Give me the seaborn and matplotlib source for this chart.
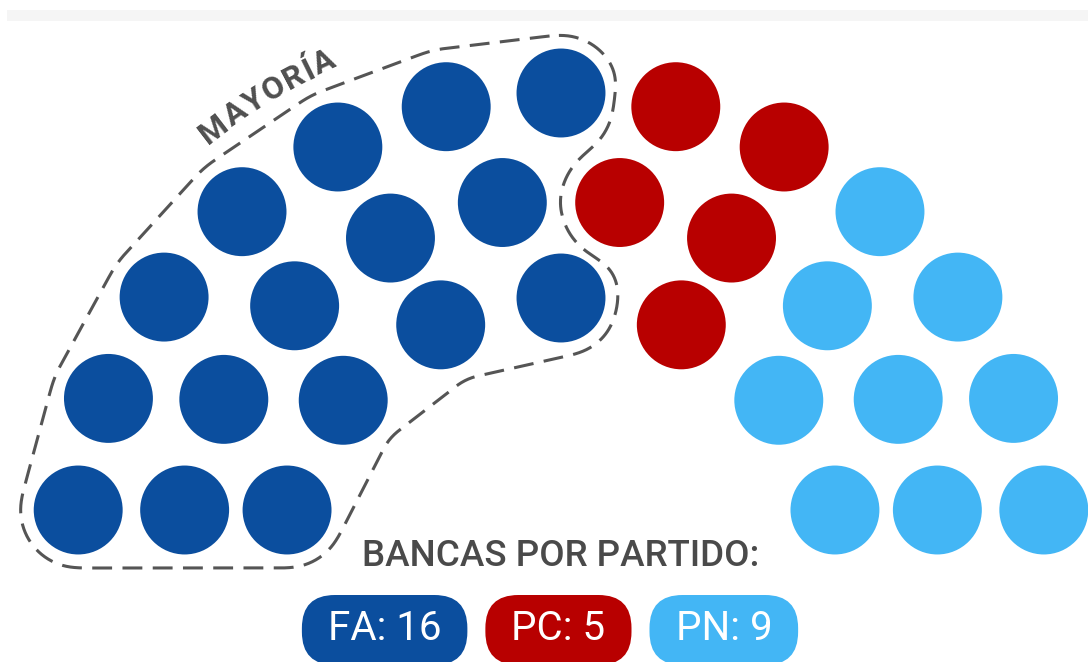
import numpy as np
import pandas as pd
import matplotlib
matplotlib.use("Agg")
import matplotlib.pyplot as plt
import seaborn as sns
from matplotlib.path import Path
from matplotlib.patches import FancyBboxPatch, Rectangle
from matplotlib.font_manager import FontProperties
import contourpy

# ---------------- data ----------------
parties = ["FA", "PC", "PN"]
seats = [16, 5, 9]
colors = ["#0B4E9E", "#B80000", "#43B6F5"]
legend_title = "BANCAS POR PARTIDO:"
majority_label = "MAYORÍA"
majority_party = "FA"

# ---------------- style ----------------
sns.set_theme(style="white")
plt.rcParams["font.family"] = ["Roboto", "DejaVu Sans"]

W, H = 1088, 662
fig = plt.figure(figsize=(W / 100, H / 100), dpi=100)
ax = fig.add_axes([0, 0, 1, 1])

# ---------------- hemicycle layout ----------------
cx, cy = 561, 581
row_r = [283, 383, 488]
row_n = [7, 10, 13]
base = 71
rows = []
for ri, (R, n) in enumerate(zip(row_r, row_n)):
    a0 = np.degrees(np.arcsin(base / R))
    for a in np.linspace(180 - a0, a0, n):
        rows.append((ri, round(a, 6), cx + R * np.cos(np.radians(a)), cy - R * np.sin(np.radians(a))))
df = pd.DataFrame(rows, columns=["row", "angle", "x", "y"])
df = df.sort_values(["angle", "row"], ascending=[False, True]).reset_index(drop=True)
df["party"] = np.repeat(parties, seats)

sns.scatterplot(data=df, x="x", y="y", hue="party", palette=dict(zip(parties, colors)),
                s=4100, linewidth=0, legend=False, ax=ax, zorder=3)

# ---------------- majority outline ----------------
fa = df[df.party == majority_party]
others = df[df.party != majority_party][["x", "y"]].values.astype(float)
outer = fa[fa.row == 2].sort_values("angle", ascending=False)[["x", "y"]].values.astype(float)
mid = fa[fa.row == 1].sort_values("angle")[["x", "y"]].values.astype(float)[:1]
inner = fa[fa.row == 0].sort_values("angle", ascending=True)[["x", "y"]].values.astype(float)
poly = np.vstack([outer, mid, inner])

gx = np.arange(-20, W + 21, 2.0)
gy = np.arange(-20, H + 21, 2.0)
GX, GY = np.meshgrid(gx, gy)
P = np.column_stack([GX.ravel(), GY.ravel()])
dpoly = np.full(len(P), np.inf)
for i in range(len(poly)):
    a = poly[i]; b = poly[(i + 1) % len(poly)]
    ab = b - a
    t = np.clip(((P - a) @ ab) / (ab @ ab), 0, 1)
    proj = a + t[:, None] * ab
    dpoly = np.minimum(dpoly, np.hypot(*(P - proj).T))
inside = Path(np.vstack([poly, poly[:1]])).contains_points(P)
dpoly[inside] = 0
doth = np.min(np.hypot(P[:, 0][:, None] - others[:, 0], P[:, 1][:, None] - others[:, 1]), axis=1)
fa_a = dpoly - 58.0
fa_b = 59.0 - doth
ksm = 5.0
mm = np.maximum(fa_a, fa_b)
G = mm + ksm * np.log(np.exp((fa_a - mm) / ksm) + np.exp((fa_b - mm) / ksm))
G = G.reshape(GX.shape)
lines = contourpy.contour_generator(gx, gy, G).lines(0.0)
line = max(lines, key=len)
closed = np.vstack([line, line[:1]])
seg = np.hypot(*np.diff(closed, axis=0).T)
s = np.concatenate([[0], np.cumsum(seg)])
ss = np.arange(0, s[-1], 1.0)
rx = np.interp(ss, s, closed[:, 0]); ry = np.interp(ss, s, closed[:, 1])
k = 25
ker = np.ones(k) / k
def circ_smooth(v):
    ext = np.concatenate([v[-k:], v, v[:k]])
    return np.convolve(ext, ker, mode="same")[k:-k]
sx, sy = circ_smooth(rx), circ_smooth(ry)
sx = np.append(sx, sx[0]); sy = np.append(sy, sy[0])
ax.plot(sx, sy, color="#555555", lw=2.2, dashes=(6.5, 3.4),
        dash_capstyle="butt", zorder=2)

# ---------------- MAYORÍA along the arc ----------------
fp = FontProperties(family=["Roboto", "DejaVu Sans"], weight="bold", size=23)
fig.canvas.draw()
rend = fig.canvas.get_renderer()
def tw(t, prop):
    if not t:
        return 0.0
    return rend.get_text_width_height_descent(t, prop, ismath=False)[0]
track = 1.5
n = len(majority_label)
centers = [(tw(majority_label[:i], fp) + tw(majority_label[:i + 1], fp)) / 2 + track * i for i in range(n)]
L = tw(majority_label, fp) + track * (n - 1)
Rt = 561
amid = 121.2
for ch, c in zip(majority_label, centers):
    ang = amid - np.degrees((c - L / 2) / Rt)
    x = cx + Rt * np.cos(np.radians(ang)); y = cy - Rt * np.sin(np.radians(ang))
    ax.text(x, y, ch, fontproperties=fp, color="#4f4f4f", rotation=ang - 90,
            rotation_mode="anchor", ha="center", va="baseline", zorder=4)

# ---------------- legend ----------------
ax.text(561, 557, legend_title, ha="center", va="center", fontsize=26.5,
        fontweight="medium", color="#4a4a4a", zorder=4)

labels = [f"{p}: {n}" for p, n in zip(parties, seats)]
fpl = FontProperties(family=["Roboto", "DejaVu Sans"], size=29)
widths = [tw(t, fpl) + 52 for t in labels]
gap = 18
total = sum(widths) + gap * (len(widths) - 1)
x0 = 550 - total / 2
ptop, ph = 595, 70
for lab, w, col in zip(labels, widths, colors):
    box = FancyBboxPatch((x0, ptop), w, ph, boxstyle="round,pad=0,rounding_size=33",
                         fc=col, ec="none", zorder=3)
    ax.add_patch(box)
    ax.text(x0 + w / 2, 628, lab, fontproperties=fpl, color="white", ha="center",
            va="center", zorder=4)
    x0 += w + gap

# faint top band
ax.add_patch(Rectangle((7, 10), W, 11, fc="#f5f5f5", ec="none", zorder=1))

ax.set_xlim(0, W)
ax.set_ylim(H, 0)
ax.set_aspect("auto")
ax.axis("off")
fig.savefig("out.png", dpi=100, facecolor="white")
